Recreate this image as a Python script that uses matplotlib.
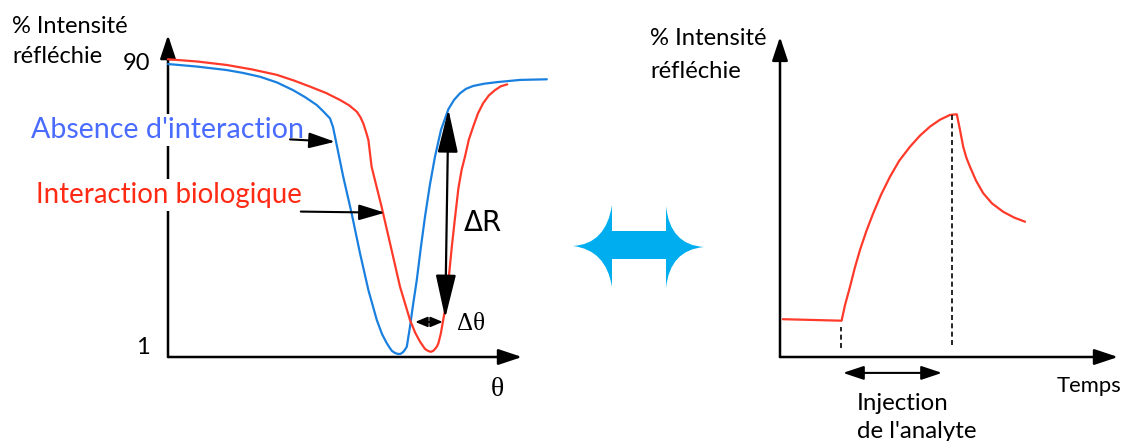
import matplotlib
matplotlib.use("Agg")
import matplotlib.pyplot as plt
from matplotlib.path import Path
from matplotlib.patches import PathPatch

W, H = 1125, 441

# ---------------- data ----------------
# Left panel: reflected intensity vs angle theta
theta_blue = [0, 7.25, 14.7, 18.75, 23, 27.25, 31.25, 34.25, 37.2, 38.75, 40.5, 41.25, 41.75,
              43.8, 45.9, 48, 50.1, 52.2, 53.5, 54.7, 55.4, 56, 56.8, 57.6, 58.2, 58.75, 59.2,
              59.7, 60.5, 61.25, 62.2, 63.2, 64.25, 65.5, 66.75, 68.25, 70.1, 71.5, 73, 74.5,
              76.3, 79, 82.2, 88, 94.7]
int_blue = [90.3, 89.5, 88.4, 87.5, 86.3, 84.5, 82.1, 79.9, 77.4, 75.5, 73.2, 70.5, 67.5,
            54.9, 43.4, 30.8, 19.2, 9.8, 5.4, 2.5, 1.1, 0.06, -0.6, -0.9, -0.8, -0.3, 0.4,
            1.4, 7.7, 14.5, 22.4, 32.5, 42.3, 52.5, 61.2, 69.6, 76.1, 79.0, 81.1, 82.5,
            83.4, 84.1, 84.6, 85.3, 85.5]
theta_red = [0, 7.25, 14.7, 21, 27.2, 31.5, 35.5, 39.5, 43, 45.3, 47.2, 48.1, 48.8, 49.5, 50.1,
             50.9, 53.4, 55.9, 58, 60.5, 61.8, 63, 64.25, 65, 65.7, 66.3, 66.75, 67.2, 67.6,
             68.2, 68.8, 69.7, 70.3, 71, 71.8, 72.6, 73.4, 74.25, 75.2, 76.3, 77.5, 78.8,
             80.2, 81.75, 83.2, 84.8]
int_red = [91.8, 91.1, 90.0, 88.6, 86.9, 85.1, 83.2, 81.2, 79.0, 77.3, 75.3, 73.6, 71.7, 69.0,
           66.4, 58.0, 45.4, 31.8, 20.3, 9.8, 5.8, 3.0, 0.7, 0.1, -0.2, 0.1, 0.7, 1.4, 2.5,
           5.5, 9.8, 16.1, 24.5, 33.4, 42.5, 51.2, 57.0, 61.2, 66.5, 70.6, 74.8, 78.0,
           80.4, 82.1, 83.3, 83.9]
left_yticklabels = ["1", "90"]

# Right panel: sensorgram (signal vs time)
t_sensor = [0.7, 15.4, 16.25, 17.5, 18.7, 20, 21.6, 23.3, 25.3, 27.5, 29.8, 32.5, 35, 37.5,
            40, 42.5, 44.2, 45, 45.8, 46.6, 47.5, 49, 50.8, 53, 55.8, 58.5, 61.25]
r_sensor = [12.6, 12.1, 17.3, 23.4, 29.7, 35.7, 42.0, 47.9, 54.2, 60.1, 65.4, 70.1, 73.8, 76.8,
            79.1, 80.7, 80.9, 75.7, 70.1, 66.4, 63.4, 58.8, 54.6, 51.2, 48.4, 46.5, 45.1]
t_injection_start = 15.25
t_injection_end = 42.9

BLUE = "#1a80e0"
RED = "#ff3a2a"
BLUE_TXT = "#4a6bff"
RED_TXT = "#ff2a14"
CYAN = "#00aeef"

fig = plt.figure(figsize=(W / 100, H / 100), dpi=100)
fig.patch.set_facecolor("white")

def fx(px):
    return px / W

def fy(py):
    return 1 - py / H

FONT = ["Lato", "DejaVu Sans"]
line_kw = dict(lw=1.6, solid_joinstyle="round", solid_capstyle="round", clip_on=False)

# ---------------- left panel ----------------
axL = fig.add_axes([fx(168), fy(357), fx(560) - fx(168), fy(30) - fy(357)])
axL.set_xlim(0, 98)
axL.set_ylim(-1.83, 101.0)
axL.axis("off")

ax_arrow = dict(arrowstyle="-|>,head_length=0.9,head_width=0.3", color="black",
                lw=1.8, mutation_scale=16, shrinkA=0, shrinkB=0)
axL.annotate("", xy=(0, 99.4), xytext=(0, -1.83), arrowprops=ax_arrow,
             annotation_clip=False, zorder=1)
axL.annotate("", xy=(88.5, -1.83), xytext=(0, -1.83), arrowprops=ax_arrow,
             annotation_clip=False, zorder=1)

axL.plot(theta_blue, int_blue, color=BLUE, zorder=4, **line_kw)
axL.plot(theta_red, int_red, color=RED, zorder=4, **line_kw)

axL.text(fx(150), fy(63), left_yticklabels[1], transform=fig.transFigure, ha="right",
         va="center", fontsize=17, family=FONT)
axL.text(fx(150), fy(347), left_yticklabels[0], transform=fig.transFigure, ha="right",
         va="center", fontsize=17, family=FONT)

axL.text(fx(12), fy(33), "% Intensité", transform=fig.transFigure, ha="left",
         va="baseline", fontsize=17, family=FONT)
axL.text(fx(12), fy(63), "réfléchie", transform=fig.transFigure, ha="left",
         va="baseline", fontsize=17, family=FONT)

wbox = dict(facecolor="white", edgecolor="none", pad=2)
axL.text(fx(31), fy(138), "Absence d'interaction", transform=fig.transFigure, ha="left",
         va="baseline", fontsize=20.6, color=BLUE_TXT, family=FONT, bbox=wbox, zorder=2)
axL.text(fx(36), fy(203), "Interaction biologique", transform=fig.transFigure, ha="left",
         va="baseline", fontsize=19.9, color=RED_TXT, family=FONT, bbox=wbox, zorder=2)

lbl_arrow = dict(arrowstyle="-|>,head_length=1.0,head_width=0.3", color="black", lw=1.5,
                 mutation_scale=16, shrinkA=0, shrinkB=0)
axL.annotate("", xy=(41.75, 65.85), xytext=(30.5, 66.6), arrowprops=lbl_arrow, zorder=5)
axL.annotate("", xy=(54.25, 43.55), xytext=(33.2, 43.9), arrowprops=lbl_arrow, zorder=5)

dr_arrow = dict(arrowstyle="<|-|>,head_length=1.5,head_width=0.35", color="black", lw=1.6,
                mutation_scale=18, shrinkA=0, shrinkB=0)
axL.annotate("", xy=(69.3, 10.4), xytext=(70.1, 76.1), arrowprops=dr_arrow, zorder=5)
dt_arrow = dict(arrowstyle="<|-|>,head_length=0.6,head_width=0.25", color="black", lw=1.4,
                mutation_scale=12, shrinkA=0, shrinkB=0)
axL.annotate("", xy=(68.7, 9.2), xytext=(61.8, 9.2), arrowprops=dt_arrow, zorder=5)

axL.text(fx(464), fy(231), "ΔR", transform=fig.transFigure, ha="left", va="baseline",
         fontsize=20, family=["DejaVu Sans"])
axL.text(fx(457), fy(330), "Δθ", transform=fig.transFigure, ha="left", va="baseline",
         fontsize=18, family=["Liberation Serif"])
axL.text(fx(491), fy(396), "θ", transform=fig.transFigure, ha="left", va="baseline",
         fontsize=20, family=["Liberation Serif"])

# ---------------- right panel ----------------
axR = fig.add_axes([fx(780), fy(357), fx(1125) - fx(780), fy(30) - fy(357)])
axR.set_xlim(0, 86.25)
axR.set_ylim(0, 109)
axR.axis("off")
axR.annotate("", xy=(0, 106.7), xytext=(0, 0), arrowprops=ax_arrow, annotation_clip=False)
axR.annotate("", xy=(84.5, 0), xytext=(0, 0), arrowprops=ax_arrow, annotation_clip=False)

axR.plot(t_sensor, r_sensor, color=RED, **line_kw)
axR.plot([t_injection_start, t_injection_start], [3, 10], color="black", lw=1.2,
         ls=(0, (3, 2)))
axR.plot([t_injection_end, t_injection_end], [4, 80.7], color="black", lw=1.2,
         ls=(0, (3, 2)))
inj_arrow = dict(arrowstyle="<|-|>,head_length=0.9,head_width=0.3", color="black", lw=1.5,
                 mutation_scale=14, shrinkA=0, shrinkB=0)
axR.annotate("", xy=(40.5, -5.3), xytext=(15.75, -5.3), arrowprops=inj_arrow,
             annotation_clip=False)

axR.text(fx(650), fy(45), "% Intensité", transform=fig.transFigure, ha="left",
         va="baseline", fontsize=17.2, family=FONT)
axR.text(fx(650), fy(78), "réfléchie", transform=fig.transFigure, ha="left",
         va="baseline", fontsize=17.2, family=FONT)
axR.text(fx(1057), fy(392), "Temps", transform=fig.transFigure, ha="left",
         va="baseline", fontsize=15.8, family=FONT)
axR.text(fx(857), fy(410), "Injection", transform=fig.transFigure, ha="left",
         va="baseline", fontsize=17.3, family=FONT)
axR.text(fx(857), fy(438), "de l'analyte", transform=fig.transFigure, ha="left",
         va="baseline", fontsize=17.3, family=FONT)

# ---------------- middle double arrow (decoration) ----------------
axM = fig.add_axes([0, 0, 1, 1], zorder=-1)
axM.set_xlim(0, W)
axM.set_ylim(H, 0)
axM.axis("off")
verts = [
    (573, 246), (606, 244), (612, 205),
    (612, 231), (666, 231), (666, 206),
    (670, 245), (704, 247),
    (670, 250), (666, 288),
    (666, 259), (612, 259), (612, 287),
    (606, 250), (573, 246),
]
codes = [Path.MOVETO, Path.CURVE3, Path.CURVE3,
         Path.LINETO, Path.LINETO, Path.LINETO,
         Path.CURVE3, Path.CURVE3,
         Path.CURVE3, Path.CURVE3,
         Path.LINETO, Path.LINETO, Path.LINETO,
         Path.CURVE3, Path.CURVE3]
axM.add_patch(PathPatch(Path(verts, codes), facecolor=CYAN, edgecolor="none"))

fig.savefig("out.png", dpi=100, facecolor="white")
